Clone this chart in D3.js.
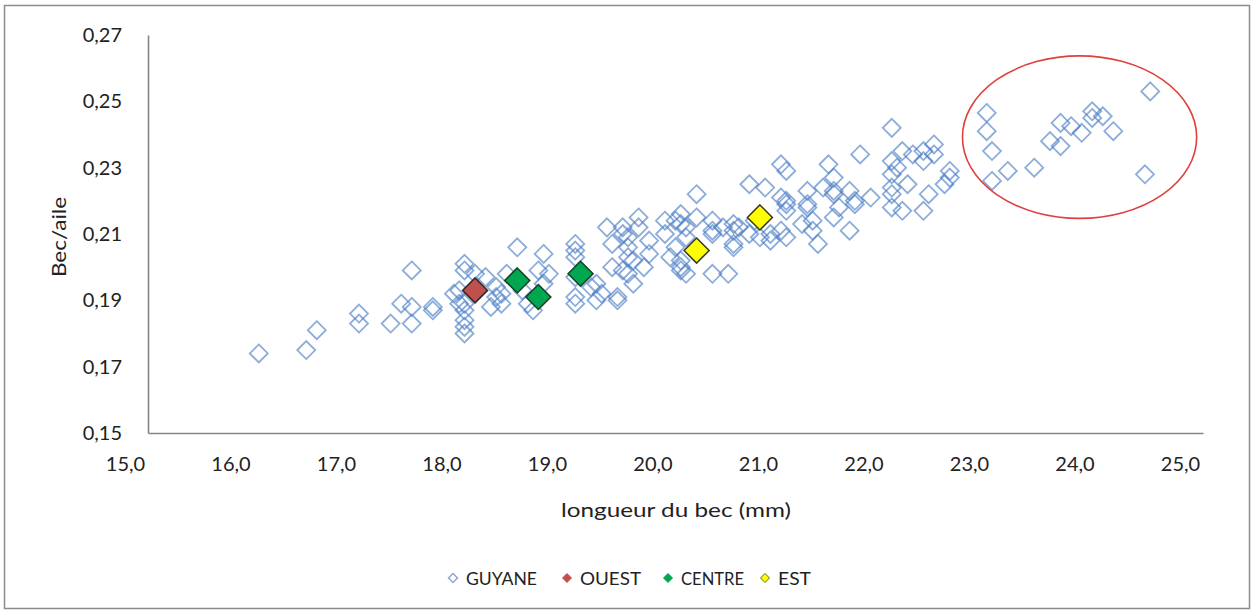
<!DOCTYPE html>
<html lang="fr">
<head>
<meta charset="UTF-8">
<title>Bec/aile vs longueur du bec</title>
<script src="https://cdn.jsdelivr.net/npm/d3@7"></script>
<style>
  body { margin: 0; background: #fff; }
  text { font-family: Lato, "Open Sans", sans-serif; fill: #222; }
</style>
</head>
<body>
<svg id="chart" width="1254" height="612"></svg>
<script>
// GUYANE samples: [longueur du bec (mm), bec/aile]
const guyane = [
  [16.05,0.174],[16.5,0.175],[16.6,0.181],[17.0,0.186],[17.0,0.183],[17.3,0.183],
  [17.5,0.199],[17.4,0.189],[17.5,0.188],[17.5,0.183],[17.7,0.188],[17.7,0.187],
  [17.95,0.193],[17.9,0.192],[17.95,0.189],[18.0,0.201],[18.0,0.199],[18.0,0.189],
  [18.0,0.187],[18.0,0.184],[18.0,0.182],[18.0,0.180],[18.1,0.198],[18.2,0.197],
  [18.3,0.194],[18.3,0.191],[18.35,0.192],[18.25,0.188],[18.35,0.189],[18.4,0.198],
  [18.5,0.206],[18.55,0.193],[18.6,0.189],[18.65,0.187],[18.75,0.204],[18.75,0.195],
  [18.7,0.199],[18.8,0.198],[19.05,0.207],[19.05,0.205],[19.05,0.203],[19.05,0.197],
  [19.05,0.191],[19.05,0.189],[19.25,0.195],[19.3,0.192],[19.45,0.190],[19.25,0.190],
  [19.2,0.194],[19.35,0.212],[19.4,0.207],[19.5,0.210],[19.55,0.203],[19.5,0.212],
  [19.65,0.215],[19.65,0.212],[19.55,0.209],[19.75,0.208],[19.4,0.200],[19.5,0.199],
  [19.55,0.198],[19.7,0.200],[19.75,0.204],[19.6,0.195],[19.45,0.191],[19.55,0.206],
  [19.6,0.202],[19.9,0.214],[20.05,0.216],[20.0,0.214],[20.05,0.213],[20.1,0.209],
  [20.1,0.212],[19.9,0.210],[20.0,0.206],[19.95,0.203],[20.05,0.202],[20.05,0.200],
  [20.1,0.198],[20.05,0.199],[20.2,0.222],[20.2,0.215],[20.35,0.214],[20.35,0.211],
  [20.35,0.210],[20.45,0.212],[20.35,0.198],[20.55,0.213],[20.55,0.211],[20.55,0.207],
  [20.55,0.206],[20.5,0.198],[20.6,0.212],[20.7,0.210],[20.75,0.214],[20.7,0.225],
  [20.85,0.224],[20.8,0.209],[20.9,0.208],[20.9,0.210],[21.0,0.231],[21.05,0.229],
  [21.05,0.220],[21.0,0.221],[21.05,0.219],[21.05,0.217],[21.0,0.211],[21.05,0.209],
  [21.2,0.213],[21.25,0.223],[21.25,0.219],[21.25,0.218],[21.3,0.214],[21.3,0.211],
  [21.35,0.207],[21.4,0.224],[21.45,0.231],[21.5,0.222],[21.5,0.227],[21.5,0.223],
  [21.5,0.215],[21.55,0.218],[21.65,0.223],[21.65,0.211],[21.7,0.219],[21.7,0.220],
  [21.75,0.234],[21.85,0.221],[22.05,0.242],[22.05,0.232],[22.05,0.228],[22.05,0.224],
  [22.05,0.222],[22.05,0.218],[22.1,0.230],[22.15,0.235],[22.15,0.217],[22.2,0.225],
  [22.25,0.234],[22.35,0.235],[22.35,0.232],[22.35,0.217],[22.4,0.222],[22.45,0.237],
  [22.45,0.234],[22.55,0.225],[22.6,0.229],[22.6,0.227],
  [22.95,0.2465],[22.95,0.241],[23.0,0.235],[23.0,0.226],[23.15,0.229],[23.4,0.230],
  [23.55,0.238],[23.65,0.2365],[23.65,0.2435],[23.75,0.2425],[23.85,0.2405],[23.95,0.247],
  [23.95,0.245],[24.05,0.2455],[24.15,0.241],[24.45,0.228],[24.5,0.253]
];
const ouest = [[18.1,0.193]];
const centre = [[18.5,0.196],[18.7,0.191],[19.1,0.198]];
const est = [[20.2,0.205],[20.8,0.215]];

const xTicks = [15,16,17,18,19,20,21,22,23,24,25];
const yTicks = [0.15,0.17,0.19,0.21,0.23,0.25,0.27];

// highlighted group (red ellipse), in data units
const ellipseCenter = [23.83, 0.2392];
const ellipseRadius = [1.11, 0.0245];

const series = [
  { name: "GUYANE", data: guyane, fill: "none", stroke: "#4f7fc6", r: 9, textW: 71 },
  { name: "OUEST", data: ouest, fill: "#c0504d", stroke: "#2b2b2b", r: 12.5, textW: 61 },
  { name: "CENTRE", data: centre, fill: "#00a650", stroke: "#1e3d25", r: 12.5, textW: 63 },
  { name: "EST", data: est, fill: "#ffff00", stroke: "#3a3a10", r: 12.5, textW: 33 }
];

const svg = d3.select("#chart");
const frLocale = d3.formatLocale({ decimal: ",", thousands: " ", grouping: [3], currency: ["", " €"] });

const x = d3.scaleLinear().domain([15, 25]).range([148, 1203]);
const y = d3.scaleLinear().domain([0.15, 0.27]).range([433, 35]);

function diamond(r) {
  return "M0," + (-r) + "L" + r + ",0L0," + r + "L" + (-r) + ",0Z";
}

// outer frame
svg.append("rect")
  .attr("x", 4.5).attr("y", 5.5).attr("width", 1245).attr("height", 603)
  .attr("fill", "none").attr("stroke", "#8c8c8c").attr("stroke-width", 1.5);

// axes
const xAxis = svg.append("g")
  .attr("transform", "translate(0," + y(0.15) + ")")
  .call(d3.axisBottom(x).tickValues(xTicks).tickSize(0).tickPadding(24).tickFormat(frLocale.format(".1f")));
const yAxis = svg.append("g")
  .attr("transform", "translate(" + x(15) + ",0)")
  .call(d3.axisLeft(y).tickValues(yTicks).tickSize(0).tickPadding(26).tickFormat(frLocale.format(".2f")));

[xAxis, yAxis].forEach(function(g) {
  g.select(".domain").attr("stroke", "#868686").attr("stroke-width", 1.6);
  g.selectAll(".tick text").attr("font-size", 20).attr("fill", "#222")
    .attr("font-family", "Lato, 'Open Sans', sans-serif");
});
// Excel-style offset of the category labels
xAxis.selectAll(".tick text").attr("dx", -23);

// axis titles
svg.append("text")
  .attr("x", 676).attr("y", 517)
  .attr("text-anchor", "middle").attr("font-size", 20)
  .attr("textLength", 230).attr("lengthAdjust", "spacingAndGlyphs")
  .text("longueur du bec (mm)");
svg.append("text")
  .attr("transform", "translate(66,237) rotate(-90)")
  .attr("text-anchor", "middle").attr("font-size", 19)
  .attr("textLength", 80).attr("lengthAdjust", "spacingAndGlyphs")
  .text("Bec/aile");

// points
series.forEach(function(s) {
  const g = svg.append("g").attr("class", "series-" + s.name);
  g.selectAll("path")
    .data(s.data)
    .enter().append("path")
    .attr("d", diamond(s.r))
    .attr("transform", function(d) { return "translate(" + x(d[0]) + "," + y(d[1]) + ")"; })
    .attr("fill", s.fill)
    .attr("stroke", s.stroke)
    .attr("stroke-width", s.fill === "none" ? 1.8 : 1.5)
    .attr("stroke-opacity", s.fill === "none" ? 0.65 : 1);
});

// red ellipse annotation
svg.append("ellipse")
  .attr("cx", x(ellipseCenter[0])).attr("cy", y(ellipseCenter[1]))
  .attr("rx", x(ellipseCenter[0] + ellipseRadius[0]) - x(ellipseCenter[0]))
  .attr("ry", y(ellipseCenter[1]) - y(ellipseCenter[1] + ellipseRadius[1]))
  .attr("fill", "none").attr("stroke", "#e0403c").attr("stroke-width", 1.6);

// legend
const legendX = [453, 567, 668, 765];
const legend = svg.append("g");
series.forEach(function(s, i) {
  const item = legend.append("g").attr("transform", "translate(" + legendX[i] + ",578)");
  item.append("path")
    .attr("d", diamond(4.5))
    .attr("fill", s.fill === "none" ? "none" : s.fill)
    .attr("stroke", s.fill === "none" ? "#8fa6d6" : s.fill === "#ffff00" ? "#6b6b10" : s.fill)
    .attr("stroke-width", s.fill === "none" ? 1.5 : 1);
  item.append("text")
    .attr("x", 13).attr("y", 6.5)
    .attr("font-size", 17)
    .attr("textLength", s.textW).attr("lengthAdjust", "spacingAndGlyphs")
    .text(s.name);
});
</script>
</body>
</html>
